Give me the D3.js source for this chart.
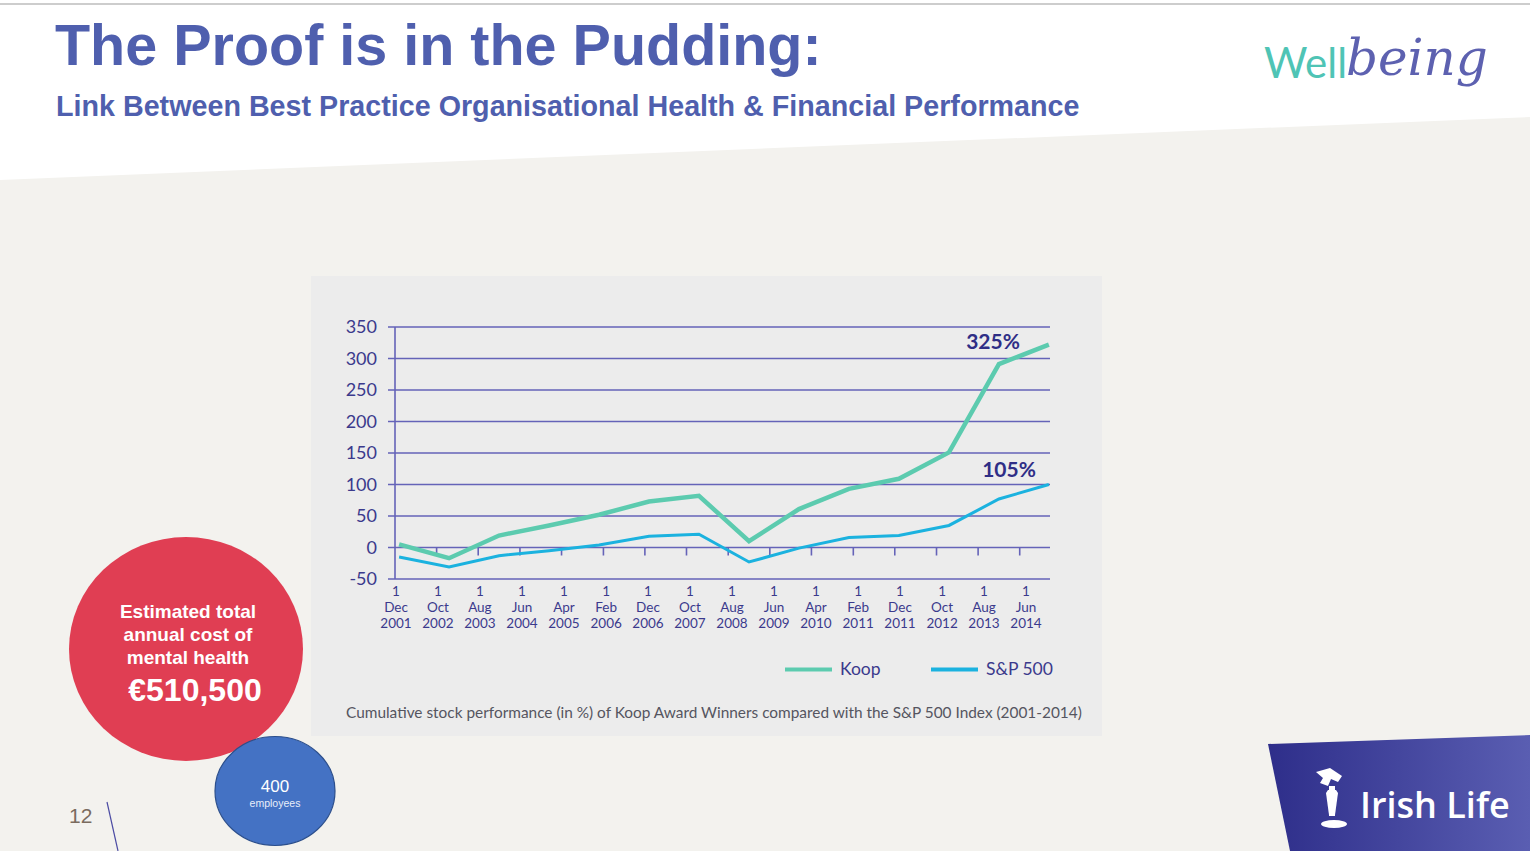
<!DOCTYPE html>
<html><head><meta charset="utf-8">
<script src="https://cdn.jsdelivr.net/npm/d3@7"></script>
<style>
html,body{margin:0;padding:0;background:#fff;overflow:hidden;}
svg{display:block;}
</style></head>
<body>
<script>
// ---- data ----
const years = [2001,2002,2003,2004,2005,2006,2007,2008,2009,2010,2011,2012,2013,2014];
const koop  = [5,-17,19,35,52,73,82,10,61,93,109,151,291,322];
const sp500 = [-15,-31,-13,-5,4,18,21,-23,-1,16,19,35,77,100];
const tickLabels = ["1 Dec 2001","1 Oct 2002","1 Aug 2003","1 Jun 2004","1 Apr 2005","1 Feb 2006","1 Dec 2006","1 Oct 2007","1 Aug 2008","1 Jun 2009","1 Apr 2010","1 Feb 2011","1 Dec 2011","1 Oct 2012","1 Aug 2013","1 Jun 2014"];
const yTicks = [-50,0,50,100,150,200,250,300,350];
const seriesNames = ["Koop","S&P 500"];
const endLabels = ["325%","105%"];

const W=1530,H=851;
const svg=d3.select("body").append("svg").attr("width",W).attr("height",H);

// background
svg.append("rect").attr("width",W).attr("height",H).attr("fill","#ffffff");
svg.append("path").attr("d",`M0,180 L${W},117 L${W},${H} L0,${H} Z`).attr("fill","#f3f2ee");
svg.append("line").attr("x1",0).attr("x2",W).attr("y1",4).attr("y2",4).attr("stroke","#bdbdbd").attr("stroke-width",1.5);

// titles
svg.append("text").attr("x",55).attr("y",65).text("The Proof is in the Pudding:")
  .attr("font-family","'Liberation Sans',Arial,sans-serif").attr("font-weight","bold").attr("font-size",57.5).attr("fill","#4f5fae");
svg.append("text").attr("x",56).attr("y",116).text("Link Between Best Practice Organisational Health & Financial Performance")
  .attr("font-family","'Liberation Sans',Arial,sans-serif").attr("font-weight","bold").attr("font-size",28.7).attr("fill","#4f5fae");

// Wellbeing logo
const wl=svg.append("g");
wl.append("text").attr("x",1264).attr("y",78).text("Well").attr("font-family","Lato,sans-serif").attr("font-size",42).attr("fill","#4fc4b5");
wl.append("text").attr("x",1346).attr("y",75).text("being").attr("font-family","'DejaVu Serif',serif").attr("font-style","italic").attr("font-size",50).attr("fill","#5d61b0");

// chart panel
svg.append("rect").attr("x",311).attr("y",276).attr("width",791).attr("height",460).attr("fill","#ececec");

const parse=d3.timeParse("%d %b %Y");
const x=d3.scaleTime().domain([new Date(2001,11,1),new Date(2015,0,1)]).range([395,1049]);
const y=d3.scaleLinear().domain([-50,350]).range([579,327]);
const gridC="#6563b8", textC="#3b3a8c";
const axisFont="Lato,'Open Sans',sans-serif";

// gridlines
svg.append("g").selectAll("line").data(yTicks).join("line")
  .attr("x1",388).attr("x2",1050).attr("y1",d=>y(d)).attr("y2",d=>y(d))
  .attr("stroke",gridC).attr("stroke-width",1.6);
svg.append("line").attr("x1",x.range()[0]).attr("x2",x.range()[0]).attr("y1",y(350)).attr("y2",y(-50)).attr("stroke",gridC).attr("stroke-width",1.6);
svg.append("g").selectAll("text").data(yTicks).join("text")
  .attr("x",377).attr("y",d=>y(d)).attr("dy","0.36em").attr("text-anchor","end")
  .attr("font-family",axisFont).attr("font-size",18).attr("fill",textC).text(d=>d);

// x ticks and labels
const tl=tickLabels.map(s=>({s,d:parse(s)}));
svg.append("g").selectAll("line").data(tl.slice(1)).join("line")
  .attr("x1",d=>x(d.d)).attr("x2",d=>x(d.d)).attr("y1",y(0)).attr("y2",y(0)+8)
  .attr("stroke",gridC).attr("stroke-width",1.6);
const lg=svg.append("g").selectAll("text").data(tl).join("text")
  .attr("text-anchor","middle").attr("font-family",axisFont).attr("font-size",13.5).attr("fill",textC);
lg.each(function(d,k){
  const parts=d.s.split(" ");
  const t=d3.select(this);
  parts.forEach((p,i)=>t.append("tspan").attr("x",x(d.d)+1+k*0.35).attr("y",596+i*16).text(p));
});

// lines
const line=d3.line().x((d,i)=>x(new Date(years[i],11,31))).y(d=>y(d));
svg.append("path").datum(sp500).attr("d",line).attr("fill","none").attr("stroke","#1bb2df").attr("stroke-width",3).attr("stroke-linejoin","miter");
svg.append("path").datum(koop).attr("d",line).attr("fill","none").attr("stroke","#5ccbaf").attr("stroke-width",4.5).attr("stroke-linejoin","miter");

// end labels
svg.append("text").attr("x",993).attr("y",349).attr("text-anchor","middle").text(endLabels[0])
  .attr("font-family",axisFont).attr("font-weight","bold").attr("font-size",21).attr("fill","#2f2e86");
svg.append("text").attr("x",1009).attr("y",477).attr("text-anchor","middle").text(endLabels[1])
  .attr("font-family",axisFont).attr("font-weight","bold").attr("font-size",21).attr("fill","#2f2e86");

// legend
const legC=["#5ccbaf","#1bb2df"], legX=[785,931];
seriesNames.forEach((n,i)=>{
  svg.append("line").attr("x1",legX[i]).attr("x2",legX[i]+47).attr("y1",669.5).attr("y2",669.5).attr("stroke",legC[i]).attr("stroke-width",4);
  svg.append("text").attr("x",legX[i]+55).attr("y",669).attr("dy","0.36em").text(n)
    .attr("font-family",axisFont).attr("font-size",17.5).attr("fill",textC);
});
svg.append("text").attr("x",346).attr("y",712).attr("dy","0.36em")
  .text("Cumulative stock performance (in %) of Koop Award Winners compared with the S&P 500 Index (2001-2014)")
  .attr("font-family",axisFont).attr("font-size",15.4).attr("fill","#555560");

// red circle
svg.append("ellipse").attr("cx",186).attr("cy",649).attr("rx",117).attr("ry",112).attr("fill","#e03e53");
const rf="'Liberation Sans',Arial,sans-serif";
["Estimated total","annual cost of","mental health"].forEach((t,i)=>{
  svg.append("text").attr("x",188).attr("y",618+i*23).attr("text-anchor","middle").text(t)
    .attr("font-family",rf).attr("font-weight","bold").attr("font-size",19).attr("fill","#fff");
});
svg.append("text").attr("x",195).attr("y",701).attr("text-anchor","middle").text("€510,500")
  .attr("font-family",rf).attr("font-weight","bold").attr("font-size",32).attr("fill","#fff");

// blue circle
svg.append("ellipse").attr("cx",275).attr("cy",791).attr("rx",60).attr("ry",54.5).attr("fill","#4472c4").attr("stroke","#2c4f8c").attr("stroke-width",1.2);
svg.append("text").attr("x",275).attr("y",792).attr("text-anchor","middle").text("400").attr("font-family",rf).attr("font-size",17).attr("fill","#fff");
svg.append("text").attr("x",275).attr("y",807).attr("text-anchor","middle").text("employees").attr("font-family",rf).attr("font-size",10.5).attr("fill","#e8eefa");

// page number
svg.append("text").attr("x",69).attr("y",823).text("12").attr("font-family",rf).attr("font-size",21).attr("fill","#7a6b5e");
svg.append("line").attr("x1",107).attr("y1",802).attr("x2",118).attr("y2",851).attr("stroke","#4b4ba3").attr("stroke-width",1.2);

// Irish Life logo
const defs=svg.append("defs");
const gr=defs.append("linearGradient").attr("id","ilg").attr("x1","0").attr("x2","1").attr("y1","0").attr("y2","0");
gr.append("stop").attr("offset","0").attr("stop-color","#2e2e8a");
gr.append("stop").attr("offset","1").attr("stop-color","#5a5eb2");
svg.append("path").attr("d",`M1268,744 L${W},735 L${W},${H} L1290,${H} Z`).attr("fill","url(#ilg)");
const fig=svg.append("g").attr("fill","#fff");
fig.append("path").attr("d","M1316,772 L1330,768 L1342,776 L1338,782 L1331,779 L1328,786 L1320,783 L1323,778 Z");
fig.append("rect").attr("x",1329).attr("y",786).attr("width",6).attr("height",30);
fig.append("path").attr("d","M1326,793 L1328,790 L1336,790 L1338,793 L1335,815 L1329,815 Z");
fig.append("ellipse").attr("cx",1334).attr("cy",824).attr("rx",13).attr("ry",4);
svg.append("text").attr("x",1360).attr("y",818).text("Irish Life").attr("font-family","'Open Sans',sans-serif").attr("font-weight",600).attr("font-size",36).attr("fill","#fff");
</script>
</body></html>
